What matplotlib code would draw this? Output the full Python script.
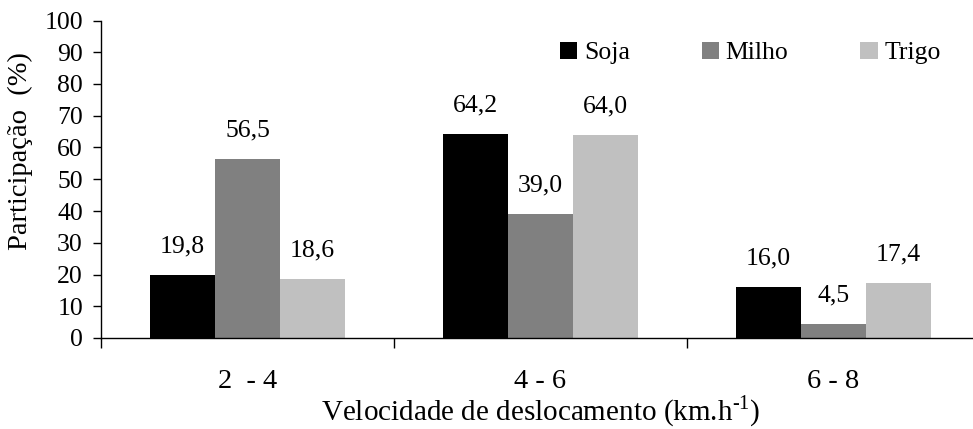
import matplotlib
matplotlib.use("Agg")
import matplotlib.pyplot as plt
import numpy as np

plt.rcParams['font.family'] = ['Liberation Serif', 'DejaVu Serif']
plt.rcParams['mathtext.fontset'] = 'custom'
plt.rcParams['mathtext.rm'] = 'Liberation Serif'

categories = ["2  - 4", "4 - 6", "6 - 8"]
series_names = ["Soja", "Milho", "Trigo"]
soja = [19.8, 64.2, 16.0]
milho = [56.5, 39.0, 4.5]
trigo = [18.6, 64.0, 17.4]
yticks = [0, 10, 20, 30, 40, 50, 60, 70, 80, 90, 100]
colors = ["#000000", "#808080", "#c0c0c0"]

fig = plt.figure(figsize=(9.73, 4.29), dpi=100)
W, H = 973, 429
ax = fig.add_axes([101 / W, (H - 338) / H, 879 / W, (338 - 20.5) / H])

x = np.arange(len(categories))
bw = 0.222
for i, (name, vals, c) in enumerate(zip(series_names, [soja, milho, trigo], colors)):
    xs = x + (i - 1) * bw
    ax.bar(xs, vals, width=bw, color=c, label=name, zorder=2)
    for xi, v in zip(xs, vals):
        ax.annotate(f"{v:.1f}".replace(".", ","), (xi, v), xytext=(0, 20.5),
                    textcoords="offset points", ha="center", va="center", fontsize=18.5)

ax.set_xlim(-0.5, 2.5)
ax.set_ylim(0, 100)
ax.set_yticks(yticks)
ax.set_yticklabels([str(t) for t in yticks], fontsize=18.5)
ax.tick_params(axis='y', direction='out', length=6, width=1, pad=7)

ax.set_xticks([-0.5, 0.5, 1.5, 2.5])
ax.set_xticklabels([])
ax.tick_params(axis='x', which='major', direction='out', length=7, width=1)
ax.set_xticks(x, minor=True)
ax.set_xticklabels(categories, minor=True, fontsize=20.5)
ax.tick_params(axis='x', which='minor', length=0, pad=22)

for s in ['top', 'right']:
    ax.spines[s].set_visible(False)
for s in ['left', 'bottom']:
    ax.spines[s].set_linewidth(1)

ax.set_ylabel("Participação  (%)", fontsize=20.5)
ax.yaxis.set_label_coords((33 - 101) / 879, (338 - 151.5) / 317.5)
ax.set_xlabel(r"Velocidade de deslocamento (km.h$^{\text{-1}}$)", fontsize=21, labelpad=0)

fig.legend(loc='center left', bbox_to_anchor=(560 / W, 1 - 53 / H), ncol=3, frameon=False,
           fontsize=18.5, handlelength=0.68, handleheight=0.68, handletextpad=0.25,
           columnspacing=2.8, borderpad=0, borderaxespad=0)

fig.savefig("out.png", dpi=100)
